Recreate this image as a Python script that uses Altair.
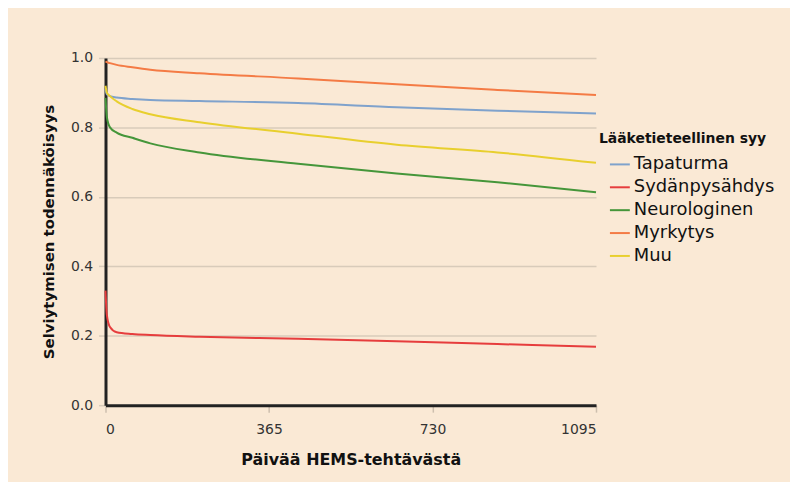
import altair as alt
import pandas as pd

days = [0, 3, 10, 25, 60, 100, 210, 430, 650, 875, 1095]
causes = ["Tapaturma", "Sydänpysähdys", "Neurologinen", "Myrkytys", "Muu"]
tapaturma = [0.91, 0.895, 0.890, 0.886, 0.882, 0.879, 0.876, 0.870, 0.858, 0.848, 0.840]
sydanpysahdys = [0.33, 0.26, 0.225, 0.210, 0.205, 0.202, 0.197, 0.191, 0.184, 0.176, 0.168]
neurologinen = [0.885, 0.830, 0.800, 0.785, 0.770, 0.754, 0.728, 0.695, 0.667, 0.642, 0.613]
myrkytys = [0.990, 0.988, 0.985, 0.980, 0.973, 0.966, 0.956, 0.941, 0.924, 0.908, 0.893]
muu = [0.920, 0.900, 0.890, 0.875, 0.853, 0.838, 0.815, 0.782, 0.750, 0.728, 0.698]
colors = ["#7FA2CC", "#E63D3D", "#45963A", "#F47B45", "#E8CF2E"]
x_ticks = [0, 365, 730, 1095]
y_ticks = [0.0, 0.2, 0.4, 0.6, 0.8, 1.0]

series = [tapaturma, sydanpysahdys, neurologinen, myrkytys, muu]
rows = []
for name, vals in zip(causes, series):
    for d, v in zip(days, vals):
        rows.append({"day": d, "p": v, "cause": name})
df = pd.DataFrame(rows)

FONT = "DejaVu Sans"

chart = (
    alt.Chart(df)
    .mark_line(strokeWidth=2, interpolate="monotone")
    .encode(
        x=alt.X(
            "day:Q",
            scale=alt.Scale(domain=[0, 1095], nice=False),
            axis=alt.Axis(
                values=x_ticks,
                format="d",
                title="Päivää HEMS-tehtävästä",
                grid=False,
                tickColor="#CDBFAE",
                tickSize=7,
                tickWidth=1.5,
                domainColor="#222222",
                domainWidth=3,
                labelColor="#333333",
                labelFontSize=14,
                labelPadding=10,
                titleFontSize=16,
                titleFontWeight="bold",
                titleColor="#111111",
                titlePadding=16,
            ),
        ),
        y=alt.Y(
            "p:Q",
            scale=alt.Scale(domain=[0, 1], nice=False),
            axis=alt.Axis(
                values=y_ticks,
                format=".1f",
                title="Selviytymisen todennäköisyys",
                grid=True,
                gridColor="#D8CBBA",
                gridWidth=1.5,
                tickColor="#D8CBBA",
                tickSize=7,
                tickWidth=1.5,
                domainColor="#222222",
                domainWidth=3,
                labelColor="#333333",
                labelFontSize=14,
                labelPadding=6,
                titleFontSize=15,
                titleFontWeight="bold",
                titleColor="#111111",
                titlePadding=14,
            ),
        ),
        color=alt.Color(
            "cause:N",
            scale=alt.Scale(domain=causes, range=colors),
            legend=alt.Legend(
                title="Lääketieteellinen syy",
                orient="none",
                legendX=496,
                legendY=74,
                symbolType="stroke",
                symbolSize=400,
                symbolStrokeWidth=2,
                symbolOffset=10,
                labelFontSize=18,
                labelOffset=3,
                labelColor="#111111",
                labelLimit=300,
                rowPadding=3,
                titleFontSize=14,
                titleFontWeight="bold",
                titleColor="#111111",
                titleLimit=300,
                titlePadding=8,
            ),
        ),
    )
    .properties(
        width=493,
        height=349,
        background="#FAE9D5",
        padding={"left": 98, "top": 49, "right": 195, "bottom": 76},
        autosize=alt.AutoSizeParams(type="none"),
    )
    .configure(font=FONT)
    .configure_view(stroke=None)
)

chart.save("out.html", embed_options={"renderer": "svg", "actions": False})
